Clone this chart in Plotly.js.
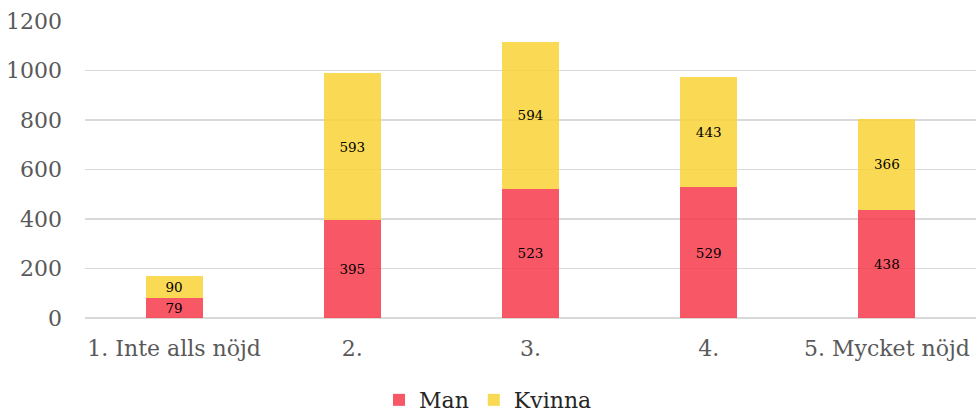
<!DOCTYPE html>
<html><head><meta charset="utf-8">
<script src="https://cdn.plot.ly/plotly-3.0.1.min.js"></script>
<style>html,body{margin:0;padding:0;background:#fff}#chart{width:976px;height:415px}</style>
</head><body><div id="chart"></div>
<script>
const categories = ["1. Inte alls nöjd", "2.", "3.", "4.", "5. Mycket nöjd"];
const manValues = [79, 395, 523, 529, 438];
const kvinnaValues = [90, 593, 594, 443, 366];
const yTicks = [0, 200, 400, 600, 800, 1000, 1200];

const serif = "'DejaVu Serif', 'Liberation Serif', serif";
const traces = [
  {type: "bar", name: "Man", x: categories, y: manValues, text: manValues.map(String),
   textposition: "inside", insidetextanchor: "middle", textangle: 0, constraintext: "none",
   insidetextfont: {family: serif, size: 13.5, color: "#000"},
   marker: {color: "rgba(247,59,74,0.85)"}, hoverinfo: "y"},
  {type: "bar", name: "Kvinna", x: categories, y: kvinnaValues, text: kvinnaValues.map(String),
   textposition: "inside", insidetextanchor: "middle", textangle: 0, constraintext: "none",
   insidetextfont: {family: serif, size: 13.5, color: "#000"},
   marker: {color: "rgba(249,211,55,0.85)"}, hoverinfo: "y"}
];
const layout = {
  width: 976, height: 415, barmode: "stack", bargap: 0.68,
  margin: {l: 85, r: 0, t: 21, b: 97},
  paper_bgcolor: "#fff", plot_bgcolor: "#fff",
  font: {family: serif, color: "#595959", size: 22},
  xaxis: {type: "category", showgrid: false, tickfont: {family: serif, size: 22, color: "#595959"},
          ticks: "", ticklabelstandoff: 15, automargin: false},
  yaxis: {range: [0, 1200], tickvals: yTicks, ticktext: yTicks.map(String), showgrid: true,
          gridcolor: "#d9d9d9", gridwidth: 1.5, zeroline: true, zerolinecolor: "#d9d9d9", zerolinewidth: 1.5,
          ticks: "", ticklen: 0, ticklabelstandoff: 22, tickfont: {family: serif, size: 22, color: "#595959"}, automargin: false},
  showlegend: true,
  legend: {orientation: "h", traceorder: "normal", x: 0.5, xref: "container", xanchor: "center",
           y: 0.036, yref: "container", yanchor: "middle",
           font: {family: serif, size: 22, color: "#262626"}, itemwidth: 30, tracegroupgap: 0}
};
Plotly.newPlot("chart", traces, layout, {displayModeBar: false, staticPlot: true});
</script></body></html>
